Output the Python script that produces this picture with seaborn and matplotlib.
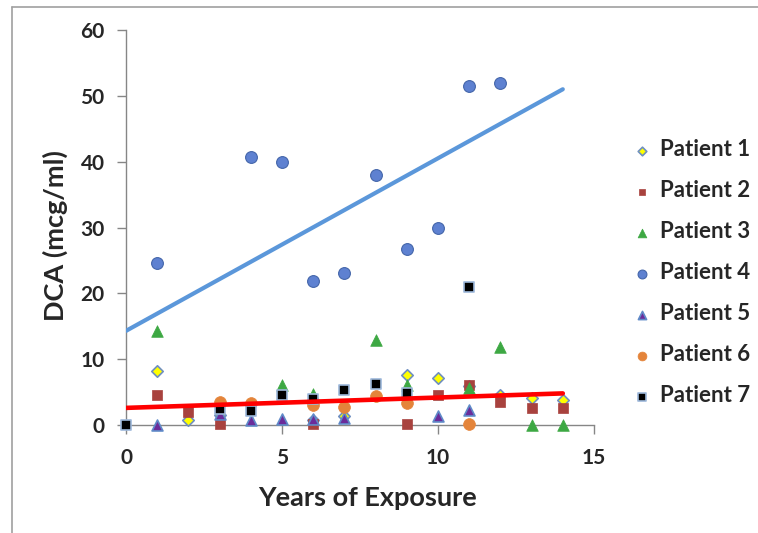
import matplotlib
matplotlib.use("Agg")
import matplotlib.pyplot as plt
import seaborn as sns
import pandas as pd
from matplotlib.lines import Line2D

sns.set_theme(style="white")
plt.rcParams['font.family'] = ['Lato', 'DejaVu Sans']

# ---- data ----
p1_x = [1, 2, 3, 6, 7, 9, 10, 11, 12, 13, 14]
p1_y = [8.2, 0.7, 1.5, 0.8, 1.3, 7.6, 7.1, 6.0, 4.6, 4.1, 3.8]
p2_x = [1, 2, 3, 6, 9, 10, 11, 12, 13, 14]
p2_y = [4.6, 2.0, 0.1, 0.2, 0.2, 4.6, 6.1, 3.5, 2.6, 2.6]
p3_x = [1, 5, 6, 8, 9, 11, 12, 13, 14]
p3_y = [14.3, 6.1, 4.7, 12.9, 6.1, 5.6, 11.8, 0.0, 0.0]
p4_x = [1, 4, 5, 6, 7, 8, 9, 10, 11, 12]
p4_y = [24.6, 40.7, 40.0, 21.8, 23.1, 38.0, 26.7, 30.0, 51.5, 52.0]
p5_x = [1, 3, 4, 5, 6, 7, 10, 11]
p5_y = [0.0, 1.7, 0.8, 0.9, 0.9, 1.0, 1.3, 2.3]
p6_x = [3, 4, 6, 7, 8, 9, 11]
p6_y = [3.5, 3.3, 3.0, 2.7, 4.4, 3.4, 0.1]
p7_x = [0, 3, 4, 5, 6, 7, 8, 9, 11]
p7_y = [0.0, 2.5, 2.2, 4.6, 3.9, 5.3, 6.2, 4.9, 21.0]

trend_x = [0, 14]
blue_trend_y = [14.3, 51.0]
red_trend_y = [2.6, 4.8]

labels = ["Patient 1", "Patient 2", "Patient 3", "Patient 4",
          "Patient 5", "Patient 6", "Patient 7"]
x_ticks = [0, 5, 10, 15]
y_ticks = [0, 10, 20, 30, 40, 50, 60]

series = [(p1_x, p1_y), (p2_x, p2_y), (p3_x, p3_y), (p4_x, p4_y),
          (p5_x, p5_y), (p6_x, p6_y), (p7_x, p7_y)]
styles = [
    dict(marker="D", color="#FFFF00", edgecolor="#6F8FC0", s=34, linewidth=1.2),
    dict(marker="s", color="#A8423E", edgecolor="#A8423E", s=42, linewidth=0.5),
    dict(marker="^", color="#3DA843", edgecolor="#3DA843", s=70, linewidth=0.5),
    dict(marker="o", color="#5E81D1", edgecolor="#4466AA", s=72, linewidth=0.8),
    dict(marker="^", color="#6B2C9A", edgecolor="#5F8AC8", s=62, linewidth=1.2),
    dict(marker="o", color="#E4843A", edgecolor="#E4843A", s=72, linewidth=0.5),
    dict(marker="s", color="#000000", edgecolor="#9DB8DA", s=52, linewidth=1.2),
]

fig = plt.figure(figsize=(7.58, 5.33), dpi=100)
ax = fig.add_axes([126/758, 1-425/533, (594-126)/758, (425-30)/533])

for (xs, ys), lab, st in zip(series, labels, styles):
    df = pd.DataFrame({"x": xs, "y": ys})
    sns.scatterplot(data=df, x="x", y="y", ax=ax, label=lab, clip_on=False,
                    zorder=3, **st)

sns.lineplot(x=trend_x, y=blue_trend_y, ax=ax, color="#5B97DA", linewidth=3,
             zorder=4, legend=False)
sns.lineplot(x=trend_x, y=red_trend_y, ax=ax, color="#FF0000", linewidth=3.3,
             zorder=4, legend=False)

ax.set_xlim(0, 15)
ax.set_ylim(0, 60)
ax.set_xticks(x_ticks)
ax.set_yticks(y_ticks)
ax.set_xticklabels([str(t) for t in x_ticks], fontsize=15, fontweight="bold")
ax.set_yticklabels([str(t) for t in y_ticks], fontsize=15, fontweight="bold")
ax.tick_params(axis="both", direction="out", length=6.5, width=1,
               color="#868686", bottom=True, left=True)
ax.tick_params(axis="x", pad=10)
ax.tick_params(axis="y", pad=9)
for side in ["top", "right"]:
    ax.spines[side].set_visible(False)
for side in ["left", "bottom"]:
    ax.spines[side].set_color("#868686")
    ax.spines[side].set_linewidth(1)

ax.set_xlabel("Years of Exposure", fontsize=19.5, fontweight="bold")
ax.set_ylabel("DCA (mcg/ml)", fontsize=19.5, fontweight="bold")
ax.xaxis.set_label_coords(0.517, -0.155)
ax.yaxis.set_label_coords(-0.124, 0.48)

leg = ax.legend(loc="center left", bbox_to_anchor=(1.032, 0.385), frameon=False,
                prop={"weight": "bold", "size": 16}, labelspacing=0.9,
                handletextpad=0.2, handlelength=1.2, markerscale=0.75)

# outer chart border (top and left)
fig.add_artist(Line2D([12/758, 12/758], [0, 1-7/533], color="#A0A0A0", lw=1.2))
fig.add_artist(Line2D([12/758, 1], [1-7/533, 1-7/533], color="#A0A0A0", lw=1.2))

fig.savefig("out.png", dpi=100)
